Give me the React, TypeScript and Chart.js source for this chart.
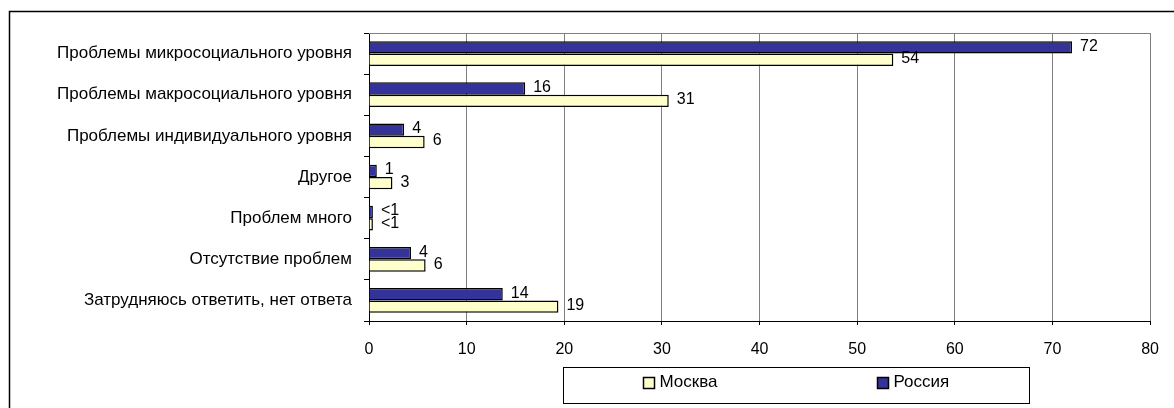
import React, { useEffect, useRef } from "react";
import { Chart, registerables } from "chart.js";

Chart.register(...registerables);

const categories = [
  "Проблемы микросоциального уровня",
  "Проблемы макросоциального уровня",
  "Проблемы индивидуального уровня",
  "Другое",
  "Проблем много",
  "Отсутствие проблем",
  "Затрудняюсь ответить, нет ответа",
];
const russia = [72, 16, 3.6, 0.8, 0.4, 4.3, 13.7];
const moscow = [53.7, 30.7, 5.7, 2.4, 0.4, 5.8, 19.4];
const russiaLabels = ["72", "16", "4", "1", "<1", "4", "14"];
const moscowLabels = ["54", "31", "6", "3", "<1", "6", "19"];
const xMin = 0;
const xMax = 80;
const xStep = 10;

const FONT = "'Liberation Sans', Arial, sans-serif";
const BLUE = "#333399";
const YELLOW = "#FFFFCC";

const labelsPlugin = {
  id: "valueLabels",
  afterDatasetsDraw(chart: any) {
    const { ctx } = chart;
    const sets = [russiaLabels, moscowLabels];
    ctx.save();
    ctx.font = `16px ${FONT}`;
    ctx.fillStyle = "#000";
    ctx.textAlign = "left";
    ctx.textBaseline = "middle";
    chart.data.datasets.forEach((_: any, di: number) => {
      const meta = chart.getDatasetMeta(di);
      meta.data.forEach((bar: any, i: number) => {
        ctx.fillText(sets[di][i], bar.x + 8, bar.y - 1);
      });
    });
    ctx.restore();
  },
};

const framePlugin = {
  id: "frame",
  beforeDraw(chart: any) {
    const { ctx } = chart;
    ctx.save();
    ctx.fillStyle = "#fff";
    ctx.fillRect(0, 0, chart.width, chart.height);
    ctx.restore();
  },
  afterDraw(chart: any) {
    const { ctx, chartArea: a } = chart;
    ctx.save();
    // outer frame
    ctx.strokeStyle = "#000";
    ctx.lineWidth = 1.5;
    ctx.strokeRect(9.5, 11.5, chart.width + 40, chart.height + 40);
    // plot area top
    ctx.strokeStyle = "#808080";
    ctx.lineWidth = 1;
    ctx.beginPath();
    ctx.moveTo(a.left, Math.round(a.top) + 0.5);
    ctx.lineTo(a.right, Math.round(a.top) + 0.5);
    ctx.stroke();
    // legend
    const bx = Math.round(a.left + 194) + 0.5;
    const by = Math.round(a.bottom + 46) + 0.5;
    const bw = 466;
    const bh = 36;
    ctx.strokeStyle = "#000";
    ctx.lineWidth = 1;
    ctx.strokeRect(bx, by, bw, bh);
    const items = [
      { text: chart.data.datasets[1].label, color: YELLOW, dx: 80 },
      { text: chart.data.datasets[0].label, color: BLUE, dx: 314 },
    ];
    ctx.font = `17px ${FONT}`;
    ctx.textBaseline = "middle";
    ctx.textAlign = "left";
    items.forEach((it) => {
      const sx = bx + it.dx;
      const sy = by + 10;
      ctx.fillStyle = it.color;
      ctx.fillRect(sx, sy, 11, 11);
      ctx.strokeStyle = "#000";
      ctx.lineWidth = 1.5;
      ctx.strokeRect(sx, sy, 11, 11);
      ctx.fillStyle = "#000";
      ctx.fillText(it.text, sx + 16, sy + 5);
    });
    ctx.restore();
  },
};

export default function App() {
  const ref = useRef<HTMLCanvasElement | null>(null);
  useEffect(() => {
    document.body.style.margin = "0";
    const canvas = ref.current!;
    const chart = new Chart(canvas, {
      type: "bar",
      data: {
        labels: categories,
        datasets: [
          {
            label: "Россия",
            data: russia,
            backgroundColor: BLUE,
            borderColor: "#000",
            borderWidth: 1.5,
            categoryPercentage: 0.6,
            barPercentage: 1,
          },
          {
            label: "Москва",
            data: moscow,
            backgroundColor: YELLOW,
            borderColor: "#000",
            borderWidth: 1.5,
            categoryPercentage: 0.6,
            barPercentage: 1,
          },
        ],
      },
      options: {
        indexAxis: "y",
        animation: false,
        responsive: false,
        maintainAspectRatio: false,
        layout: { padding: { left: 0, right: 23, top: 33, bottom: 47 } },
        plugins: {
          legend: { display: false },
          tooltip: { enabled: false },
        },
        scales: {
          x: {
            min: xMin,
            max: xMax,
            ticks: {
              stepSize: xStep,
              color: "#000",
              font: { family: FONT, size: 16 },
              padding: 15,
              maxRotation: 0,
            },
            grid: {
              color: "#808080",
              lineWidth: 1,
              tickColor: "#000",
              tickLength: 4,
            },
            border: { color: "#000", width: 1 },
            afterFit(scale: any) {
              scale.height = 40;
            },
          },
          y: {
            ticks: {
              color: "#000",
              font: { family: FONT, size: 17 },
              padding: 12,
            },
            grid: {
              drawOnChartArea: false,
              tickColor: "#000",
              tickLength: 5,
            },
            border: { color: "#000", width: 1 },
            afterFit(scale: any) {
              scale.width = 369;
            },
          },
        },
      },
      plugins: [framePlugin, labelsPlugin],
    });
    return () => chart.destroy();
  }, []);
  return <canvas ref={ref} width={1174} height={408} style={{ display: "block" }} />;
}
